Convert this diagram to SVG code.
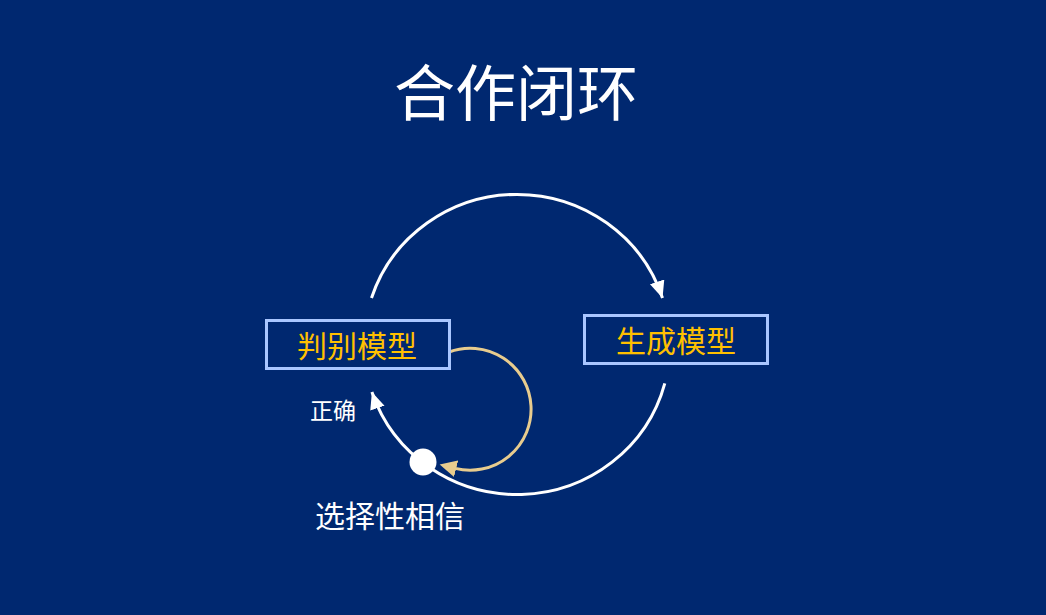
<svg xmlns="http://www.w3.org/2000/svg" width="1046" height="615" viewBox="0 0 1046 615">
<style>
text{font-family:"Noto Sans CJK SC","Noto Sans",sans-serif;}
.title{font-size:61px;fill:#ffffff;}
.box{fill:none;stroke:#a9c6ff;stroke-width:3;}
.boxt{font-size:30px;fill:#ffc000;}
.lbl{fill:#ffffff;}
.arc{fill:none;stroke:#ffffff;stroke-width:3;}
.tan{fill:none;stroke:#e8cc8e;stroke-width:3;}
</style>
<defs>
<marker id="aw" markerUnits="userSpaceOnUse" markerWidth="20" markerHeight="16" refX="17" refY="7.5" orient="auto">
<path d="M0,0 L17,7.5 L0,15 z" fill="#ffffff"/>
</marker>
<marker id="at" markerUnits="userSpaceOnUse" markerWidth="20" markerHeight="18" refX="1" refY="8.5" orient="auto">
<path d="M0,0 L17,8.5 L0,17 z" fill="#e8cc8e"/>
</marker>
</defs>
<rect x="0" y="0" width="1046" height="615" fill="#002870"/>
<text class="title" x="516" y="116" text-anchor="middle">合作闭环</text>
<g id="connectors">
<path class="arc" d="M371.5,298 A153 150 0 0 1 662.5,298" marker-end="url(#aw)"/>
<path class="arc" d="M664.8,383.3 A153 150 0 0 1 371.9,392.1" marker-end="url(#aw)"/>
<path class="tan" d="M449,352 A61 61 0 1 1 455.2,468.4" marker-end="url(#at)"/>
</g>
<g id="node-discriminator">
<rect class="box" x="266.5" y="320.5" width="183" height="48"/>
<text class="boxt" x="357" y="357" text-anchor="middle">判别模型</text>
</g>
<g id="node-generator">
<rect class="box" x="584.5" y="315.5" width="183" height="48"/>
<text class="boxt" x="676" y="352" text-anchor="middle">生成模型</text>
</g>
<g id="node-dot">
<circle cx="423" cy="462" r="13.5" fill="#ffffff"/>
</g>
<text class="lbl" x="333" y="419" font-size="23" text-anchor="middle">正确</text>
<text class="lbl" x="390" y="527" font-size="30" text-anchor="middle">选择性相信</text>
</svg>
